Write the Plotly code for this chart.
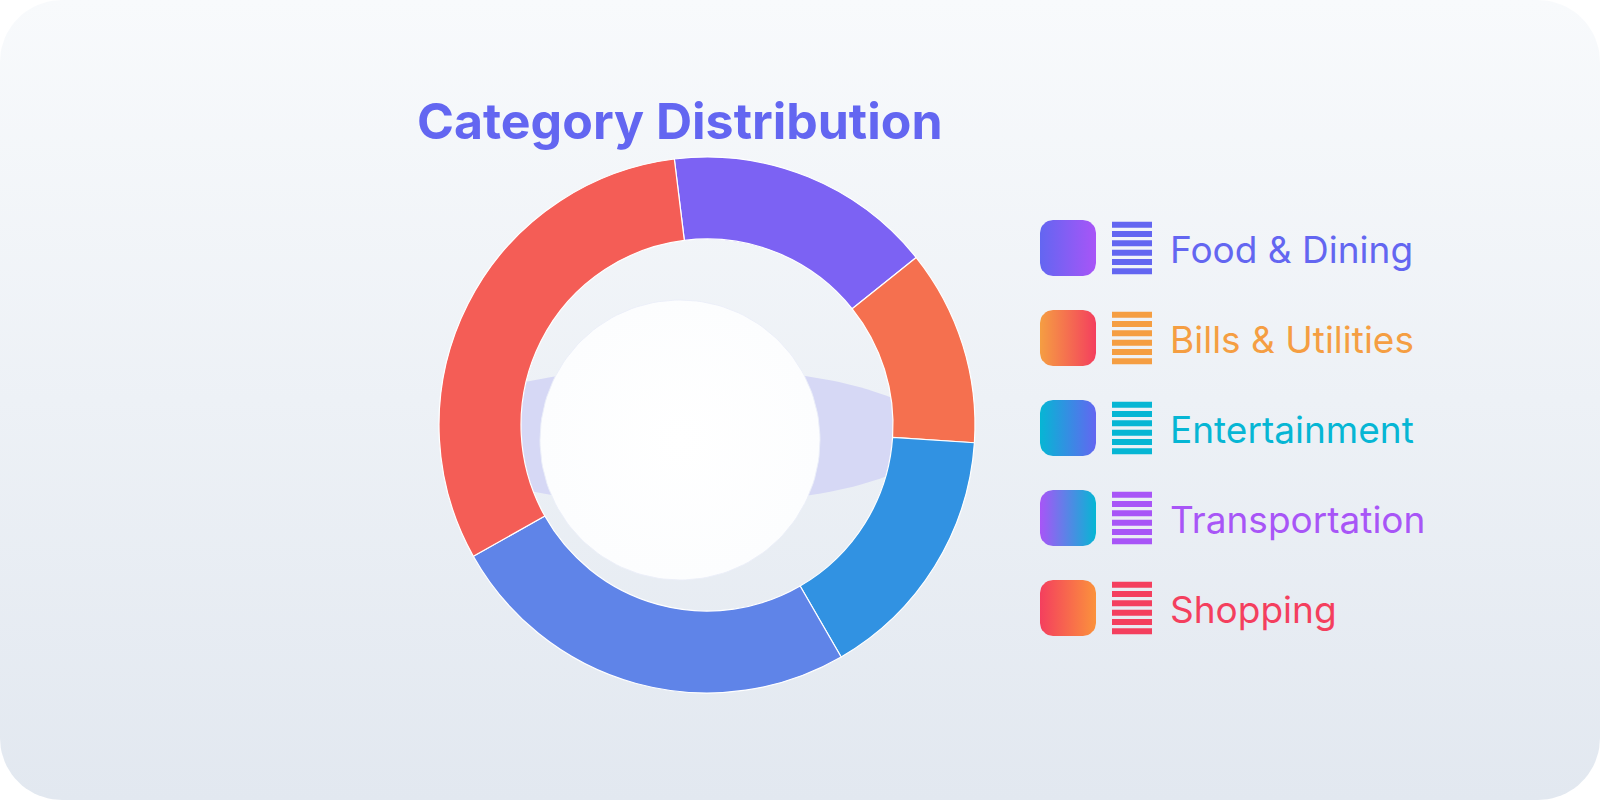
import math
import plotly.graph_objects as go

# ---------------- data ----------------
categories = ["Food & Dining", "Bills & Utilities", "Entertainment", "Transportation", "Shopping"]
values = [16.2, 11.8, 15.6, 25.2, 31.2]
slice_colors = ["#7c62f3", "#f5704f", "#3192e2", "#5f84e8", "#f45d56"]
label_colors = ["#6366f1", "#f59e42", "#06b6d4", "#a855f7", "#f43f5e"]
grad_from = ["#6366f1", "#f59e42", "#06b6d4", "#a855f7", "#f43f5e"]
grad_to = ["#a855f7", "#f43f5e", "#6366f1", "#06b6d4", "#fb923c"]
title_text = "Category Distribution"

W, H = 1600, 800
cx, cy, R = 707, 425, 268
HOLE = 0.694


def Y(py):
    return H - py


def rounded_rect(x0, y0, x1, y1, r, n=12):
    """pixel coords (y down) -> axis coords of a rounded rectangle outline"""
    pts = []
    corners = [(x1 - r, y0 + r, -90, 0), (x1 - r, y1 - r, 0, 90),
               (x0 + r, y1 - r, 90, 180), (x0 + r, y0 + r, 180, 270)]
    for ccx, ccy, a0, a1 in corners:
        for i in range(n + 1):
            a = math.radians(a0 + (a1 - a0) * i / n)
            pts.append((ccx + r * math.cos(a), ccy + r * math.sin(a)))
    pts.append(pts[0])
    return [p[0] for p in pts], [Y(p[1]) for p in pts]


def ellipse(ecx, ecy, a, b, n=160, clip=None):
    xs, ys = [], []
    for i in range(n + 1):
        t = 2 * math.pi * i / n
        px = ecx + a * math.cos(t)
        py = ecy + b * math.sin(t)
        if clip is not None:
            kx, ky, kr = clip
            d = math.hypot(px - kx, py - ky)
            if d > kr:
                px = kx + (px - kx) * kr / d
                py = ky + (py - ky) * kr / d
        xs.append(px)
        ys.append(Y(py))
    return xs, ys


fig = go.Figure()

# card background with vertical gradient
bx, by = rounded_rect(0, 0, W, H, 62, 20)
fig.add_trace(go.Scatter(
    x=bx, y=by, mode="lines", fill="toself", line=dict(width=0, color="rgba(0,0,0,0)"),
    fillgradient=dict(type="vertical", start=0, stop=H,
                      colorscale=[[0, "#e2e8f0"], [1, "#f8fafc"]]),
    hoverinfo="skip", showlegend=False))

# lavender ellipse visible inside the hole
ex, ey = ellipse(682, 436, 252, 69, clip=(cx, cy, R * HOLE + 1))
fig.add_trace(go.Scatter(x=ex, y=ey, mode="lines", fill="toself",
                         line=dict(width=0, color="rgba(0,0,0,0)"),
                         fillcolor="#d6d8f5", hoverinfo="skip", showlegend=False))

# white center disc
wx, wy = ellipse(680, 440, 140, 140)
fig.add_trace(go.Scatter(x=wx, y=wy, mode="lines", fill="toself",
                         line=dict(width=1, color="rgba(235,238,248,0.9)"),
                         fillgradient=dict(type="radial",
                                           colorscale=[[0, "#ffffff"], [1, "#fcfdfe"]]),
                         hoverinfo="skip", showlegend=False))

# legend gradient squares
row_y = [248, 338, 428, 518, 608]
for i, cat in enumerate(categories):
    sx, sy = rounded_rect(1040, row_y[i] - 28, 1096, row_y[i] + 28, 13, 8)
    fig.add_trace(go.Scatter(
        x=sx, y=sy, mode="lines", fill="toself", line=dict(width=0, color="rgba(0,0,0,0)"),
        fillgradient=dict(type="horizontal", colorscale=[[0, grad_from[i]], [1, grad_to[i]]]),
        hoverinfo="skip", showlegend=False))

# donut
fig.add_trace(go.Pie(
    labels=categories, values=values, sort=False, direction="clockwise", rotation=-7,
    hole=HOLE, textinfo="none",
    marker=dict(colors=slice_colors, line=dict(color="#ffffff", width=1.2)),
    domain=dict(x=[(cx - R) / W, (cx + R) / W], y=[(H - cy - R) / H, (H - cy + R) / H]),
    showlegend=False, hovertemplate="%{label}: %{percent}<extra></extra>"))

shapes = []
annotations = []
for i, cat in enumerate(categories):
    yc = row_y[i]
    for k in range(6):
        top = yc - 26.3 + k * 9.33
        shapes.append(dict(type="rect", xref="x", yref="y", layer="above",
                           x0=1112, x1=1152, y0=Y(top), y1=Y(top + 6),
                           fillcolor=label_colors[i], line=dict(width=0)))
    annotations.append(dict(
        text=cat, x=1168, y=Y(yc + 1), xref="x", yref="y", xanchor="left", yanchor="middle",
        showarrow=False, font=dict(family="Inter", size=37, color=label_colors[i])))

annotations.append(dict(
    text="<b>" + title_text + "</b>", x=680, y=Y(121), xref="x", yref="y",
    xanchor="center", yanchor="middle", showarrow=False,
    font=dict(family="Inter", size=50, color="#6366f1")))

fig.update_layout(
    width=W, height=H, margin=dict(l=0, r=0, t=0, b=0),
    paper_bgcolor="#ffffff", plot_bgcolor="rgba(0,0,0,0)",
    xaxis=dict(range=[0, W], visible=False, fixedrange=True, domain=[0, 1]),
    yaxis=dict(range=[0, H], visible=False, fixedrange=True, domain=[0, 1]),
    shapes=shapes, annotations=annotations, showlegend=False)

fig.write_html("out.html")
